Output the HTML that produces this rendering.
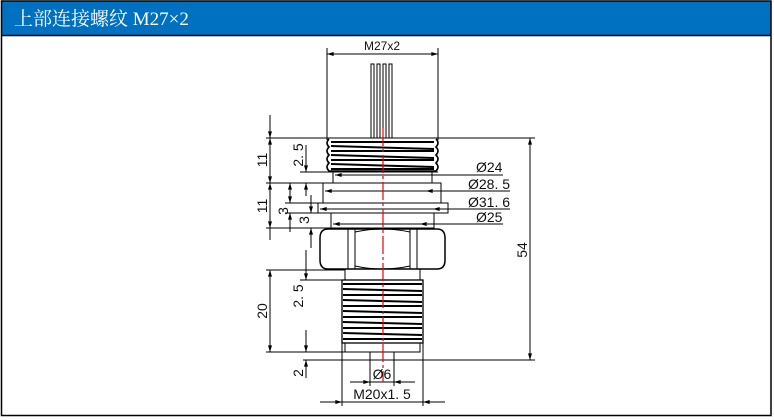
<!DOCTYPE html>
<html><head><meta charset="utf-8"><style>
html,body{margin:0;padding:0;background:#fff;width:774px;height:420px;overflow:hidden}
svg{display:block}
text{font-family:"Liberation Sans","DejaVu Sans",sans-serif;fill:#111}
</style></head><body>
<svg width="774" height="420" viewBox="0 0 774 420" xmlns="http://www.w3.org/2000/svg">
<defs>
<marker id="a" viewBox="0 0 10 6" refX="10" refY="3" markerWidth="8" markerHeight="4" orient="auto-start-reverse" markerUnits="userSpaceOnUse"><path d="M0,0L10,3L0,6z" fill="#000"/></marker>
</defs>
<rect x="0" y="0" width="774" height="420" fill="#fff"/>
<rect x="1.5" y="1" width="769.5" height="34.5" fill="#0070c0"/>
<line x1="1" y1="35.5" x2="771" y2="35.5" stroke="#000" stroke-width="1.5"/>
<rect x="1.5" y="1" width="769.5" height="414.5" fill="none" stroke="#000" stroke-width="1.5"/>
<text x="14" y="25" font-size="19" style="fill:#fff;font-family:'Liberation Serif','Noto Serif CJK SC',serif">上部连接螺纹 M27×2</text>

<g stroke="#000" stroke-width="1" fill="none">
<!-- pins -->
<rect x="371" y="64" width="3" height="74"/><rect x="377" y="64" width="3" height="74"/>
<rect x="383" y="64" width="3" height="74"/><rect x="389" y="64" width="3" height="74"/>
<!-- M27 dims -->
<line x1="327" y1="48" x2="327" y2="140"/><line x1="438" y1="48" x2="438" y2="140"/>
<line x1="327" y1="54" x2="438" y2="54" marker-start="url(#a)" marker-end="url(#a)"/>
<line x1="266" y1="138" x2="535" y2="138"/>
<!-- top thread -->
<path d="M329,139 Q325,143 329,147 Q325,151 329,155 Q325,159 329,163 Q325,167 329,171 L436,171 Q440,167 436,163 Q440,159 436,155 Q440,151 436,147 Q440,143 436,139" stroke-width="1.6"/>
<g stroke-width="2">
<line x1="331" y1="142" x2="434" y2="142"/><line x1="331" y1="146" x2="434" y2="149"/>
<line x1="331" y1="151" x2="434" y2="151"/><line x1="331" y1="155" x2="434" y2="158"/>
<line x1="331" y1="160" x2="434" y2="160"/><line x1="331" y1="164" x2="434" y2="167"/>
<line x1="331" y1="169" x2="434" y2="169"/>
</g>
<line x1="300" y1="172" x2="438" y2="172"/>
<rect x="333" y="172" width="99" height="11"/>
<rect x="323" y="183" width="118" height="20"/>
<rect x="318" y="203" width="130" height="10"/>
<rect x="331" y="213" width="103" height="15"/>
<!-- hex -->
<path d="M328,229 L437,229 Q445,229 445,238 L445,260 Q445,269 437,269 L328,269 Q320,269 320,260 L320,238 Q320,229 328,229z" stroke-width="1.5"/>
<line x1="348" y1="229" x2="348" y2="269"/><line x1="355" y1="229" x2="355" y2="269"/>
<line x1="410" y1="229" x2="410" y2="269"/><line x1="417" y1="229" x2="417" y2="269"/>
<path d="M355,232 Q382,226 410,232 M355,266 Q382,272 410,266"/>
<rect x="345" y="269" width="75" height="11"/>
<rect x="342" y="280" width="81" height="63" stroke-width="1.3"/>
<g stroke-width="2">
<line x1="343" y1="284" x2="422" y2="284"/><line x1="343" y1="289" x2="422" y2="291"/>
<line x1="343" y1="295" x2="422" y2="295"/><line x1="343" y1="300" x2="422" y2="302"/>
<line x1="343" y1="306" x2="422" y2="306"/><line x1="343" y1="311" x2="422" y2="313"/>
<line x1="343" y1="317" x2="422" y2="317"/><line x1="343" y1="322" x2="422" y2="324"/>
<line x1="343" y1="328" x2="422" y2="328"/><line x1="343" y1="333" x2="422" y2="335"/>
<line x1="343" y1="339" x2="422" y2="339"/>
</g>
<rect x="345" y="343" width="75" height="9"/>
<rect x="370" y="352" width="24" height="8"/>
<line x1="303" y1="360" x2="535" y2="360"/>
<line x1="370" y1="360" x2="370" y2="386"/><line x1="394" y1="360" x2="394" y2="386"/>
<line x1="350" y1="382" x2="370" y2="382" marker-end="url(#a)"/><line x1="415" y1="382" x2="394" y2="382" marker-end="url(#a)"/>
<line x1="370" y1="382" x2="394" y2="382"/>
<line x1="342" y1="343" x2="342" y2="406"/><line x1="423" y1="343" x2="423" y2="406"/>
<line x1="320" y1="402" x2="342" y2="402" marker-end="url(#a)"/><line x1="445" y1="402" x2="423" y2="402" marker-end="url(#a)"/>
<line x1="342" y1="402" x2="423" y2="402"/>
<line x1="530" y1="138" x2="530" y2="360" marker-start="url(#a)" marker-end="url(#a)"/>
<line x1="335" y1="175" x2="503" y2="175" marker-start="url(#a)"/><line x1="430" y1="175" x2="420" y2="175"/>
<line x1="325" y1="191" x2="510" y2="191" marker-start="url(#a)"/><line x1="441" y1="191" x2="426" y2="191" marker-end="url(#a)"/>
<line x1="320" y1="209" x2="510" y2="209" marker-start="url(#a)"/><line x1="448" y1="209" x2="433" y2="209" marker-end="url(#a)"/>
<line x1="333" y1="224" x2="503" y2="224" marker-start="url(#a)"/><line x1="434" y1="224" x2="420" y2="224" marker-end="url(#a)"/>
<line x1="266" y1="183" x2="323" y2="183"/><line x1="285" y1="203" x2="318" y2="203"/>
<line x1="285" y1="213" x2="318" y2="213"/><line x1="266" y1="228" x2="331" y2="228"/>
<line x1="266" y1="270" x2="345" y2="270"/><line x1="300" y1="280" x2="342" y2="280"/>
<line x1="266" y1="352" x2="345" y2="352"/>
<line x1="270" y1="115" x2="270" y2="138" marker-end="url(#a)"/>
<line x1="270" y1="138" x2="270" y2="183" marker-start="url(#a)" marker-end="url(#a)"/>
<line x1="270" y1="183" x2="270" y2="228" marker-start="url(#a)" marker-end="url(#a)"/>
<line x1="270" y1="228" x2="270" y2="240"/>
<line x1="270" y1="270" x2="270" y2="352" marker-start="url(#a)" marker-end="url(#a)"/>
<line x1="306" y1="145" x2="306" y2="172" marker-end="url(#a)"/>
<line x1="306" y1="183" x2="306" y2="196" marker-start="url(#a)"/>
<line x1="290" y1="183" x2="290" y2="203" marker-start="url(#a)" marker-end="url(#a)"/>
<line x1="290" y1="213" x2="290" y2="232" marker-start="url(#a)"/>
<line x1="311" y1="195" x2="311" y2="213" marker-end="url(#a)"/>
<line x1="311" y1="228" x2="311" y2="248" marker-start="url(#a)"/>
<line x1="306" y1="250" x2="306" y2="280" marker-end="url(#a)"/>
<line x1="306" y1="330" x2="306" y2="352" marker-end="url(#a)"/>
<line x1="306" y1="360" x2="306" y2="378" marker-start="url(#a)"/>
</g>
<line x1="383" y1="128" x2="383" y2="382" stroke="#e00" stroke-width="1.2" stroke-dasharray="18,3,3,3"/>

<g font-size="14">
<text x="382" y="50" text-anchor="middle" font-size="12">M27x2</text>
<text x="476" y="172">Ø24</text>
<text x="468" y="189">Ø28. 5</text>
<text x="468" y="207">Ø31. 6</text>
<text x="476" y="222">Ø25</text>
<text x="382" y="379" text-anchor="middle">Ø6</text>
<text x="382" y="399" text-anchor="middle">M20x1. 5</text>
<text transform="translate(527,250) rotate(-90)" text-anchor="middle">54</text>
<text transform="translate(267,160) rotate(-90)" text-anchor="middle">11</text>
<text transform="translate(267,206) rotate(-90)" text-anchor="middle">11</text>
<text transform="translate(267,311) rotate(-90)" text-anchor="middle">20</text>
<text transform="translate(303,155) rotate(-90)" text-anchor="middle">2. 5</text>
<text transform="translate(303,296) rotate(-90)" text-anchor="middle">2. 5</text>
<text transform="translate(303,373) rotate(-90)" text-anchor="middle">2</text>
<text transform="translate(288,211) rotate(-90)" text-anchor="middle">3</text>
<text transform="translate(309,220) rotate(-90)" text-anchor="middle">3</text>
</g>
</svg>
</body></html>
